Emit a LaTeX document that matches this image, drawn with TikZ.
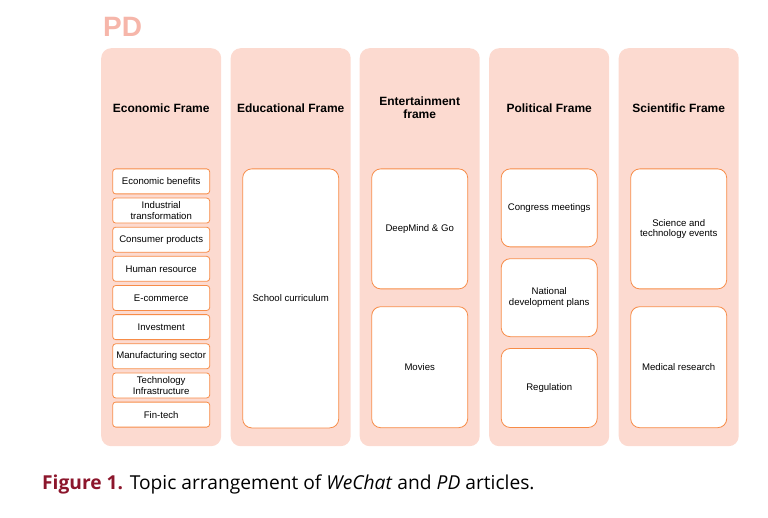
\documentclass[tikz,border=0pt]{standalone}
\usepackage{fontspec}
\setmainfont{Liberation Sans}
\newfontfamily\capfont{Open Sans}
\usetikzlibrary{positioning}

\definecolor{panelfill}{RGB}{252,218,208}
\definecolor{boxline}{RGB}{247,140,72}
\definecolor{pdtext}{RGB}{246,182,170}
\definecolor{capred}{RGB}{140,22,44}

\begin{document}
\begin{tikzpicture}[
  x=1pt, y=-1pt,
  font=\fontsize{9.6}{10.5}\selectfont,
  panel/.style={fill=panelfill, rounded corners=10pt, minimum width=120pt, minimum height=398pt, anchor=north west, inner sep=0pt},
  frametitle/.style={font=\fontsize{12}{13}\selectfont\bfseries, align=center},
  item/.style={draw=boxline, fill=white, line width=0.8pt, rounded corners=3pt, minimum width=97pt, minimum height=25pt, inner sep=1pt, align=center},
  bigbox/.style={draw=boxline, fill=white, line width=0.8pt, rounded corners=9pt, minimum width=96pt, inner sep=1pt, align=center},
]
\useasboundingbox (0,0) rectangle (768,518);

\node[anchor=base west, text=pdtext, font=\fontsize{28}{30}\selectfont\bfseries, inner sep=0pt] (pd) at (103,37) {PD};

% -- Panels --
\node[panel] (econ) at (101,48) {};
\node[panel] (educ) at (230.5,48) {};
\node[panel] (ent) at (359.5,48) {};
\node[panel] (pol) at (489,48) {};
\node[panel] (sci) at (618.5,48) {};

\node[frametitle] (econT) at ([yshift=-60pt]econ.north) {Economic Frame};
\node[frametitle] (educT) at ([yshift=-60pt]educ.north) {Educational Frame};
\node[frametitle] (entT) at ([yshift=-60pt]ent.north) {Entertainment\\frame};
\node[frametitle] (polT) at ([yshift=-60pt]pol.north) {Political Frame};
\node[frametitle] (sciT) at ([yshift=-60pt]sci.north) {Scientific Frame};

% -- Economic --
\node[item, below=120.5pt of econ.north] (e1) {Economic benefits};
\node[item, below=3.35pt of e1] (e2) {Industrial\\transformation};
\node[item, below=3.35pt of e2] (e3) {Consumer products};
\node[item, below=3.35pt of e3] (e4) {Human resource};
\node[item, below=3.35pt of e4] (e5) {E-commerce};
\node[item, below=3.35pt of e5] (e6) {Investment};
\node[item, below=3.35pt of e6] (e7) {Manufacturing sector};
\node[item, below=3.35pt of e7] (e8) {Technology\\Infrastructure};
\node[item, below=3.35pt of e8] (e9) {Fin-tech};

% -- Educational --
\node[bigbox, minimum height=259pt, below=120.5pt of educ.north] (school) {School curriculum};

% -- Entertainment --
\node[bigbox, minimum height=120pt, below=120.5pt of ent.north] (go) {DeepMind \& Go};
\node[bigbox, minimum height=121pt, below=17pt of go] (movies) {Movies};

% -- Political --
\node[bigbox, minimum height=78pt, below=120.5pt of pol.north] (congress) {Congress meetings};
\node[bigbox, minimum height=78pt, below=11pt of congress] (plans) {National\\development plans};
\node[bigbox, minimum height=79pt, below=11pt of plans] (regul) {Regulation};

% -- Scientific --
\node[bigbox, minimum height=120pt, below=120.5pt of sci.north] (events) {Science and\\technology events};
\node[bigbox, minimum height=121pt, below=17pt of events] (medical) {Medical research};

% -- Caption --
\node[anchor=base west, inner sep=0pt, font=\capfont\fontsize{19.2}{21}\selectfont] (cap) at (42,489)
  {\textcolor{capred}{\bfseries Figure 1.} Topic arrangement of \textit{WeChat} and \textit{PD} articles.};

\end{tikzpicture}
\end{document}
